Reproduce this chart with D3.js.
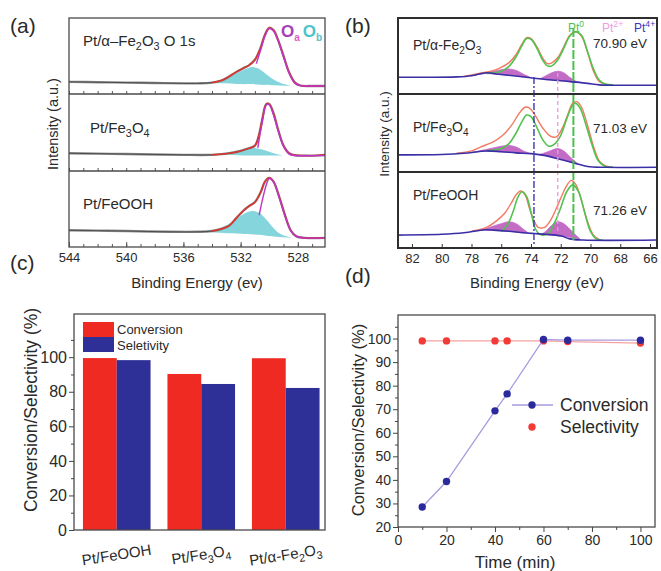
<!DOCTYPE html>
<html><head><meta charset="utf-8">
<script src="https://cdn.jsdelivr.net/npm/d3@7"></script>
<style>body{margin:0;background:#fff;} svg{display:block;font-family:"Liberation Sans",Arial,sans-serif;}</style>
</head><body>
<script>
// ---------------- Panel (a): O 1s XPS ----------------
const aTickValues = [544, 540, 536, 532, 528];
const aSampleLabels = ["Pt/α–Fe_{2}O_{3}  O 1s", "Pt/Fe_{3}O_{4}", "Pt/FeOOH"];
const aEnvFe2O3 = [[544,0.16],[542,0.155],[540,0.15],[538,0.145],[536,0.14],[535,0.14],[534,0.15],[533.3,0.18],[532.8,0.23],[532.3,0.29],[531.8,0.34],[531.4,0.38],[531.0,0.45],[530.6,0.61],[530.3,0.78],[530.0,0.87],[529.7,0.84],[529.4,0.72],[529.0,0.5],[528.6,0.28],[528.2,0.15],[527.8,0.11],[527,0.105],[526.1,0.105]];
const aEnvFe3O4 = [[544,0.23],[542,0.225],[540,0.22],[538,0.215],[536,0.21],[534,0.21],[533,0.225],[532.2,0.25],[531.5,0.29],[531.0,0.33],[530.7,0.48],[530.5,0.66],[530.2,0.87],[530.0,0.87],[529.7,0.75],[529.4,0.55],[529.0,0.33],[528.6,0.23],[528.2,0.205],[527.5,0.2],[526.8,0.2],[526.1,0.21]];
const aEnvFeOOH = [[544,0.22],[542,0.215],[540,0.21],[537,0.2],[535,0.2],[534,0.21],[533.3,0.24],[532.8,0.28],[532.3,0.38],[531.8,0.48],[531.4,0.54],[531.0,0.59],[530.6,0.72],[530.3,0.86],[530.0,0.91],[529.7,0.86],[529.3,0.66],[528.9,0.42],[528.5,0.22],[528.1,0.14],[527.5,0.12],[526.1,0.12]];
const aOaFe2O3 = [[530.9,0.40],[530.6,0.58],[530.3,0.76],[530.0,0.86],[529.7,0.83],[529.4,0.71],[529.0,0.49],[528.6,0.27],[528.2,0.14],[527.8,0.11],[527,0.105],[526.1,0.105]];
const aOaFe3O4 = [[530.8,0.30],[530.5,0.62],[530.2,0.86],[530.0,0.86],[529.7,0.73],[529.4,0.54],[529.0,0.32],[528.6,0.22],[528.2,0.2],[527,0.2],[526.1,0.2]];
const aOaFeOOH = [[530.7,0.42],[530.5,0.6],[530.2,0.82],[530.0,0.9],[529.7,0.86],[529.3,0.65],[528.9,0.41],[528.5,0.22],[528.1,0.14],[527.5,0.12],[526.1,0.12]];
const aObFe2O3 = [[534.2,0.14,0.14],[533.5,0.14,0.17],[533,0.14,0.2],[532.5,0.135,0.25],[532,0.13,0.3],[531.5,0.13,0.34],[531.2,0.13,0.355],[530.8,0.125,0.34],[530.4,0.12,0.29],[530,0.12,0.23],[529.5,0.115,0.17],[529,0.11,0.13],[528.5,0.11,0.11]];
const aObFe3O4 = [[535,0.21,0.21],[534,0.21,0.22],[533,0.21,0.24],[532.2,0.205,0.27],[531.5,0.2,0.3],[531,0.2,0.3],[530.5,0.2,0.28],[530,0.2,0.25],[529.5,0.2,0.22],[529,0.2,0.2]];
const aObFeOOH = [[534.5,0.2,0.2],[533.8,0.19,0.22],[533.2,0.185,0.27],[532.6,0.18,0.33],[532,0.175,0.41],[531.5,0.17,0.46],[531.1,0.165,0.475],[530.7,0.16,0.45],[530.3,0.15,0.38],[529.8,0.14,0.27],[529.3,0.13,0.18],[528.8,0.125,0.14],[528.3,0.12,0.12]];

// ---------------- Panel (b): Pt 4f XPS ----------------
const bTickValues = [82, 80, 78, 76, 74, 72, 70, 68, 66];
const bSampleLabels = ["Pt/α-Fe_{2}O_{3}", "Pt/Fe_{3}O_{4}", "Pt/FeOOH"];
const bPeakLabels = ["70.90 eV", "71.03 eV", "71.26 eV"];
const bLegend = ["Pt^{0}", "Pt^{2+}", "Pt^{4+}"];
const bRefEnergies = [73.8, 72.2, 71.15];
const bBlueFe2O3 = [[83,0.22],[81,0.22],[79,0.225],[78,0.24],[77,0.28],[76.2,0.26],[75.2,0.24],[73.9,0.21],[73,0.19],[72,0.175],[71.2,0.16],[70.2,0.14],[69.4,0.12],[68,0.115],[65.5,0.115]];
const bBlueFe3O4 = [[83,0.22],[80,0.225],[78.5,0.24],[77,0.27],[76,0.26],[75,0.245],[74,0.235],[73,0.21],[72,0.16],[71,0.11],[70.2,0.07],[69,0.06],[65.5,0.06]];
const bBlueFeOOH = [[83,0.17],[80,0.18],[78.5,0.2],[77.1,0.24],[76.5,0.235],[75.5,0.22],[74.5,0.2],[73.8,0.19],[73,0.18],[72,0.16],[71.4,0.12],[70.5,0.105],[65.5,0.105]];
const bPt2Fe2O3 = [[[78,0.24,0.24],[77,0.27,0.28],[76.5,0.26,0.30],[76,0.255,0.32],[75.5,0.245,0.33],[75,0.24,0.31],[74.5,0.225,0.26],[74,0.215,0.215]],
                   [[73.4,0.2,0.2],[73,0.19,0.24],[72.6,0.185,0.28],[72.2,0.18,0.3],[71.8,0.17,0.28],[71.4,0.165,0.22],[71,0.155,0.17],[70.7,0.15,0.15]]];
const bPt2Fe3O4 = [[[78,0.25,0.25],[77,0.27,0.29],[76.5,0.265,0.31],[76,0.26,0.33],[75.5,0.255,0.34],[75,0.245,0.32],[74.5,0.24,0.27],[74,0.235,0.235]],
                   [[73.5,0.22,0.22],[73,0.21,0.25],[72.6,0.19,0.28],[72.2,0.175,0.3],[71.8,0.155,0.27],[71.4,0.13,0.2],[71,0.11,0.13],[70.8,0.1,0.1]]];
const bPt2FeOOH = [[[77.5,0.23,0.23],[77,0.235,0.26],[76.5,0.23,0.29],[76,0.225,0.32],[75.5,0.22,0.345],[75,0.21,0.32],[74.6,0.2,0.26],[74.2,0.195,0.2]],
                   [[73.3,0.18,0.18],[73,0.175,0.22],[72.6,0.17,0.3],[72.2,0.16,0.345],[71.8,0.15,0.32],[71.4,0.14,0.25],[71,0.13,0.17],[70.7,0.12,0.12]]];
const bPt0Fe2O3 = [[77,0.27],[76,0.3],[75.5,0.36],[75,0.49],[74.6,0.64],[74.3,0.73],[74.0,0.72],[73.6,0.6],[73.2,0.44],[72.9,0.37],[72.6,0.37],[72.2,0.45],[71.8,0.6],[71.4,0.76],[71.0,0.82],[70.6,0.77],[70.2,0.56],[69.8,0.33],[69.4,0.18],[69,0.13],[68.5,0.12]];
const bPt0Fe3O4 = [[77,0.27],[76,0.3],[75.5,0.36],[75,0.5],[74.6,0.65],[74.3,0.73],[74,0.71],[73.6,0.57],[73.2,0.41],[72.8,0.33],[72.4,0.36],[72,0.47],[71.6,0.68],[71.2,0.86],[71.0,0.88],[70.7,0.82],[70.3,0.6],[69.9,0.35],[69.5,0.15],[69.1,0.08],[68.5,0.06]];
const bPt0FeOOH = [[76,0.22],[75.6,0.3],[75.2,0.48],[74.9,0.66],[74.6,0.74],[74.3,0.68],[74,0.47],[73.7,0.25],[73.4,0.18],[73.1,0.17],[72.8,0.2],[72.4,0.34],[72,0.53],[71.6,0.74],[71.2,0.83],[70.8,0.74],[70.4,0.47],[70,0.22],[69.6,0.12],[69.2,0.105]];
const bEnvFe2O3 = [[78.5,0.23],[77.5,0.27],[76.5,0.31],[76,0.35],[75.5,0.41],[75,0.52],[74.6,0.66],[74.3,0.74],[74.0,0.73],[73.6,0.62],[73.2,0.47],[72.9,0.4],[72.6,0.41],[72.2,0.48],[71.8,0.62],[71.4,0.77],[71.0,0.82],[70.6,0.76],[70.2,0.55],[69.8,0.3],[69.4,0.16],[69,0.13]];
const bEnvFe3O4 = [[79,0.24],[78,0.27],[77.4,0.32],[76.5,0.39],[75.9,0.47],[75.3,0.6],[74.8,0.75],[74.4,0.83],[74.1,0.82],[73.7,0.72],[73.2,0.56],[72.7,0.46],[72.3,0.45],[71.9,0.56],[71.5,0.75],[71.2,0.88],[70.9,0.9],[70.6,0.83],[70.2,0.6],[69.8,0.33],[69.4,0.14],[69,0.08],[68.5,0.06]];
const bEnvFeOOH = [[78,0.22],[77,0.27],[76.3,0.36],[75.8,0.45],[75.3,0.6],[75,0.7],[74.7,0.75],[74.4,0.7],[74.1,0.52],[73.8,0.36],[73.5,0.27],[73.1,0.27],[72.7,0.36],[72.3,0.52],[71.9,0.7],[71.6,0.82],[71.3,0.89],[71.0,0.84],[70.6,0.62],[70.2,0.35],[69.8,0.17],[69.4,0.11]];

// ---------------- Panel (c): bars ----------------
const cCategories = ["Pt/FeOOH", "Pt/Fe_{3}O_{4}", "Pt/α-Fe_{2}O_{3}"];
const cSeries = ["Conversion", "Seletivity"];
const cConversion = [99.5, 90.3, 99.4];
const cSelectivity = [98.3, 84.5, 82.2];
const cTickValues = [0, 20, 40, 60, 80, 100];

// ---------------- Panel (d): time course ----------------
const dTime = [10, 20, 40, 45, 60, 70, 100];
const dConversion = [28.5, 39.3, 69.3, 76.5, 99.6, 99.3, 99.3];
const dSelectivity = [99, 99, 99, 99, 99, 98.7, 98.1];
const dXTicks = [0, 20, 40, 60, 80, 100];
const dYTicks = [20, 30, 40, 50, 60, 70, 80, 90, 100];
const dSeries = ["Conversion", "Selectivity"];

// ================= drawing =================
const svg = d3.select("body").append("svg").attr("width", 661).attr("height", 571);
const TXT = "#2a2a2a";

function rich(sel, str, size) {
  const re = /([_^])\{([^}]*)\}|([^_^]+)/g;
  let m, shift = 0;
  while ((m = re.exec(str))) {
    if (m[3] !== undefined) {
      sel.append("tspan").attr("dy", -shift).text(m[3]); shift = 0;
    } else {
      const s = m[1] === "_" ? 0.28 * size : -0.42 * size;
      sel.append("tspan").attr("font-size", size * 0.72).attr("dy", s - shift).text(m[2]); shift = s;
    }
  }
  return sel;
}
function label(g, x, y, str, size, opts = {}) {
  const t = g.append("text").attr("x", x).attr("y", y).attr("font-size", size)
    .attr("fill", opts.fill || TXT).attr("text-anchor", opts.anchor || "start");
  if (opts.weight) t.attr("font-weight", opts.weight);
  if (opts.transform) t.attr("transform", opts.transform);
  return rich(t, str, size);
}
const smooth = d3.curveCatmullRom.alpha(0.5);

// panel letters
[["(a)", 10, 33], ["(b)", 345, 33], ["(c)", 10, 270], ["(d)", 345, 283]].forEach(([s, x, y]) =>
  svg.append("text").attr("x", x).attr("y", y).attr("font-size", 21).attr("fill", TXT).text(s));

// ---- Panel (a)
{
  const g = svg.append("g");
  const x = d3.scaleLinear().domain([544, 526.1]).range([69, 325]);
  const rows = [[18, 94], [94, 171], [171, 247]];
  const envs = [aEnvFe2O3, aEnvFe3O4, aEnvFeOOH];
  const oas = [aOaFe2O3, aOaFe3O4, aOaFeOOH];
  const obs = [aObFe2O3, aObFe3O4, aObFeOOH];
  rows.forEach(([top, bot], i) => {
    const y = d3.scaleLinear().domain([0, 1]).range([bot, top]);
    g.append("path").datum(obs[i]).attr("fill", "#6fcfd6").attr("fill-opacity", 0.85)
      .attr("d", d3.area().x(d => x(d[0])).y0(d => y(d[1])).y1(d => y(d[2])).curve(smooth));
    g.append("path").datum(envs[i]).attr("fill", "none").attr("stroke", "#8d8d8d").attr("stroke-width", 2.4)
      .attr("d", d3.line().x(d => x(d[0])).y(d => y(d[1])).curve(smooth));
    g.append("path").datum(envs[i]).attr("fill", "none").attr("stroke", "#3a3a3a").attr("stroke-width", 0.8)
      .attr("d", d3.line().x(d => x(d[0])).y(d => y(d[1])).curve(smooth));
    g.append("path").datum(envs[i].filter(d => d[0] <= 534.2)).attr("fill", "none").attr("stroke", "#e0342c").attr("stroke-width", 1.5)
      .attr("d", d3.line().x(d => x(d[0])).y(d => y(d[1])).curve(smooth));
    g.append("path").datum(oas[i]).attr("fill", "none").attr("stroke", "#c034c8").attr("stroke-width", 1.4)
      .attr("d", d3.line().x(d => x(d[0])).y(d => y(d[1])).curve(smooth));
    const ax = g.append("g").attr("transform", `translate(0,${bot})`)
      .call(d3.axisBottom(x).tickValues(d3.range(544, 526, -1)).tickSize(-3).tickFormat(""));
    ax.select(".domain").remove();
    ax.selectAll("line").attr("stroke", "#555");
  });
  const xa = g.append("g").attr("transform", "translate(0,247)")
    .call(d3.axisBottom(x).tickValues(aTickValues).tickSize(-5).tickPadding(6));
  xa.select(".domain").remove();
  xa.selectAll("line").attr("stroke", "#555");
  xa.selectAll("text").attr("font-size", 13).attr("fill", TXT).attr("font-family", "Liberation Sans, Arial");
  g.append("rect").attr("x", 69).attr("y", 18).attr("width", 256).attr("height", 229)
    .attr("fill", "none").attr("stroke", "#4a4a4a").attr("stroke-width", 1.3);
  [94, 171].forEach(yy => g.append("line").attr("x1", 69).attr("x2", 325).attr("y1", yy).attr("y2", yy).attr("stroke", "#4a4a4a").attr("stroke-width", 1.3));
  label(g, 83, 46, aSampleLabels[0], 15);
  label(g, 90, 133, aSampleLabels[1], 15);
  label(g, 83, 209, aSampleLabels[2], 15);
  const lo = g.append("text").attr("x", 281).attr("y", 37).attr("font-size", 17).attr("font-weight", "bold");
  lo.append("tspan").attr("fill", "#a640b8").text("O");
  lo.append("tspan").attr("fill", "#e060c0").attr("font-size", 10).attr("dy", 4).text("a");
  lo.append("tspan").attr("fill", "#4cc4cc").attr("dy", -4).attr("dx", 3).text("O");
  lo.append("tspan").attr("fill", "#4cc4cc").attr("font-size", 10).attr("dy", 4).text("b");
  g.append("text").attr("x", 197).attr("y", 288).attr("text-anchor", "middle").attr("font-size", 15).attr("fill", TXT).text("Binding Energy (ev)");
  g.append("text").attr("transform", "translate(58,124) rotate(-90)").attr("text-anchor", "middle").attr("font-size", 14.5).attr("fill", TXT).text("Intensity (a.u.)");
}

// ---- Panel (b)
{
  const g = svg.append("g");
  const x = d3.scaleLinear().domain([82.94, 65.53]).range([398, 657]);
  const rows = [[18, 94], [94, 172], [172, 248]];
  const blues = [bBlueFe2O3, bBlueFe3O4, bBlueFeOOH];
  const pt2s = [bPt2Fe2O3, bPt2Fe3O4, bPt2FeOOH];
  const pt0s = [bPt0Fe2O3, bPt0Fe3O4, bPt0FeOOH];
  const envs = [bEnvFe2O3, bEnvFe3O4, bEnvFeOOH];
  const line = y => d3.line().x(d => x(d[0])).y(d => y(d[1])).curve(smooth);
  rows.forEach(([top, bot], i) => {
    const y = d3.scaleLinear().domain([0, 1]).range([bot, top]);
    pt2s[i].forEach(arr => g.append("path").datum(arr).attr("fill", "#b347b8").attr("fill-opacity", 0.8)
      .attr("stroke", "#c865c8").attr("stroke-width", 0.8)
      .attr("d", d3.area().x(d => x(d[0])).y0(d => y(d[1])).y1(d => y(d[2])).curve(smooth)));
    g.append("path").datum(envs[i]).attr("fill", "none").attr("stroke", "#f07a62").attr("stroke-width", 1.4).attr("d", line(y));
    g.append("path").datum(pt0s[i]).attr("fill", "none").attr("stroke", "#52c24e").attr("stroke-width", 1.6).attr("d", line(y));
    g.append("path").datum(blues[i]).attr("fill", "none").attr("stroke", "#3b2fa6").attr("stroke-width", 1.6).attr("d", line(y));
  });
  const vStyles = [
    {c: "#3d36b4", dash: "7,2,2,2", y1: 77, y2: 246, w: 1.4},
    {c: "#e79ad8", dash: "4,3", y1: 73, y2: 232, w: 1.3},
    {c: "#4cc04a", dash: "9,2", y1: 28, y2: 240, w: 2}
  ];
  bRefEnergies.forEach((e, i) => g.append("line").attr("x1", x(e)).attr("x2", x(e)).attr("y1", vStyles[i].y1).attr("y2", vStyles[i].y2)
    .attr("stroke", vStyles[i].c).attr("stroke-width", vStyles[i].w).attr("stroke-dasharray", vStyles[i].dash));
  const xa = g.append("g").attr("transform", "translate(0,248)")
    .call(d3.axisBottom(x).tickValues(bTickValues).tickSize(-4).tickPadding(6));
  xa.select(".domain").remove();
  xa.selectAll("line").attr("stroke", "#333");
  xa.selectAll("text").attr("font-size", 13).attr("fill", TXT).attr("font-family", "Liberation Sans, Arial");
  g.append("rect").attr("x", 398).attr("y", 18).attr("width", 259).attr("height", 230)
    .attr("fill", "none").attr("stroke", "#2e2e2e").attr("stroke-width", 2);
  [94, 172].forEach(yy => g.append("line").attr("x1", 398).attr("x2", 657).attr("y1", yy).attr("y2", yy).attr("stroke", "#2e2e2e").attr("stroke-width", 2));
  label(g, 413, 50, bSampleLabels[0], 14);
  label(g, 413, 132, bSampleLabels[1], 14);
  label(g, 413, 200, bSampleLabels[2], 14);
  [43, 128, 210].forEach((yy, i) => g.append("text").attr("x", 620).attr("y", yy + 5).attr("text-anchor", "middle")
    .attr("font-size", 13.5).attr("fill", TXT).text(bPeakLabels[i]));
  const legCols = ["#4ec24a", "#ee9ee0", "#3a36c0"];
  [568, 602, 634].forEach((xx, i) => label(g, xx, 32, bLegend[i], 12, {fill: legCols[i]}));
  g.append("text").attr("x", 537).attr("y", 288).attr("text-anchor", "middle").attr("font-size", 15).attr("fill", TXT).text("Binding Energy (eV)");
  g.append("text").attr("transform", "translate(389,134) rotate(-90)").attr("text-anchor", "middle").attr("font-size", 13.5).attr("fill", TXT).text("Intensity (a.u.)");
}

// ---- Panel (c)
{
  const g = svg.append("g");
  const x = d3.scaleBand().domain(cCategories).range([74.5, 328]).paddingInner(0.2).paddingOuter(0.1);
  const xs = d3.scaleBand().domain(cSeries).range([0, x.bandwidth()]);
  const y = d3.scaleLinear().domain([0, 125]).range([530, 314]);
  const colors = {Conversion: "#ee2a22", Seletivity: "#2f2f98"};
  const rowsData = cCategories.map((c, i) => ({c, vals: [cConversion[i], cSelectivity[i]]}));
  rowsData.forEach(r => r.vals.forEach((v, j) => g.append("rect")
    .attr("x", x(r.c) + xs(cSeries[j])).attr("width", xs.bandwidth())
    .attr("y", y(v)).attr("height", y(0) - y(v)).attr("fill", colors[cSeries[j]])));
  g.append("rect").attr("x", 74).attr("y", 314).attr("width", 251).attr("height", 216)
    .attr("fill", "none").attr("stroke", "#4a4a4a").attr("stroke-width", 1.3);
  const ya = g.append("g").attr("transform", "translate(74,0)")
    .call(d3.axisLeft(y).tickValues(cTickValues).tickSize(5).tickPadding(2));
  ya.select(".domain").remove();
  ya.selectAll("line").attr("stroke", "#444");
  ya.selectAll("text").attr("font-size", 16).attr("fill", TXT).attr("font-family", "Liberation Sans, Arial");
  const ym = g.append("g").attr("transform", "translate(74,0)")
    .call(d3.axisLeft(y).tickValues([10, 30, 50, 70, 90, 110]).tickSize(3).tickFormat(""));
  ym.select(".domain").remove(); ym.selectAll("line").attr("stroke", "#444");
  cSeries.forEach((s, j) => {
    g.append("rect").attr("x", 83).attr("y", 322 + j * 15).attr("width", 31).attr("height", 15).attr("fill", colors[s]);
    g.append("text").attr("x", 117).attr("y", 334 + j * 16).attr("font-size", 13).attr("fill", TXT).text(s);
  });
  cCategories.forEach(c => {
    const cx = x(c) + x.bandwidth() / 2;
    label(g, cx, 560, c, 15, {anchor: "middle", transform: `rotate(-9 ${cx} 556)`});
  });
  g.append("text").attr("transform", "translate(37,410) rotate(-90)").attr("text-anchor", "middle").attr("font-size", 17.5).attr("fill", TXT).text("Conversion/Selectivity (%)");
}

// ---- Panel (d)
{
  const g = svg.append("g");
  const x = d3.scaleLinear().domain([0, 106]).range([398, 655]);
  const y = d3.scaleLinear().domain([20, 110]).range([527, 315]);
  g.append("rect").attr("x", 398).attr("y", 315).attr("width", 257).attr("height", 212)
    .attr("fill", "none").attr("stroke", "#4a4a4a").attr("stroke-width", 1.3);
  const xa = g.append("g").attr("transform", "translate(0,527)").call(d3.axisBottom(x).tickValues(dXTicks).tickSize(5).tickPadding(3));
  xa.select(".domain").remove(); xa.selectAll("line").attr("stroke", "#444");
  xa.selectAll("text").attr("font-size", 14).attr("fill", TXT).attr("font-family", "Liberation Sans, Arial");
  const xm = g.append("g").attr("transform", "translate(0,527)").call(d3.axisBottom(x).tickValues([10, 30, 50, 70, 90]).tickSize(3).tickFormat(""));
  xm.select(".domain").remove(); xm.selectAll("line").attr("stroke", "#444");
  const ya = g.append("g").attr("transform", "translate(398,0)").call(d3.axisLeft(y).tickValues(dYTicks).tickSize(5).tickPadding(2));
  ya.select(".domain").remove(); ya.selectAll("line").attr("stroke", "#444");
  ya.selectAll("text").attr("font-size", 14).attr("fill", TXT).attr("font-family", "Liberation Sans, Arial");
  const ym = g.append("g").attr("transform", "translate(398,0)").call(d3.axisLeft(y).tickValues(d3.range(25, 110, 10)).tickSize(3).tickFormat(""));
  ym.select(".domain").remove(); ym.selectAll("line").attr("stroke", "#444");

  const series = [
    {name: dSeries[0], vals: dConversion, line: "#a99bdc", dot: "#2a2a9c"},
    {name: dSeries[1], vals: dSelectivity, line: "#f5a3a0", dot: "#f23a36"}
  ];
  series.slice().reverse().forEach(s => {
    const pts = dTime.map((t, i) => [t, s.vals[i]]);
    g.append("path").datum(pts).attr("fill", "none").attr("stroke", s.line).attr("stroke-width", 1.3)
      .attr("d", d3.line().x(d => x(d[0])).y(d => y(d[1])));
    g.selectAll(null).data(pts).enter().append("circle").attr("cx", d => x(d[0])).attr("cy", d => y(d[1])).attr("r", 3.7).attr("fill", s.dot);
  });
  series.forEach((s, j) => {
    const ly = 405 + j * 22;
    if (j === 0) g.append("line").attr("x1", 512).attr("x2", 553).attr("y1", ly).attr("y2", ly).attr("stroke", s.line).attr("stroke-width", 1.3);
    g.append("circle").attr("cx", 532).attr("cy", ly).attr("r", 3.7).attr("fill", s.dot);
    g.append("text").attr("x", 560).attr("y", ly + 6).attr("font-size", 17.5).attr("fill", TXT).text(s.name);
  });
  g.append("text").attr("x", 515).attr("y", 568).attr("text-anchor", "middle").attr("font-size", 17).attr("fill", TXT).text("Time (min)");
  g.append("text").attr("transform", "translate(364,420) rotate(-90)").attr("text-anchor", "middle").attr("font-size", 16.5).attr("fill", TXT).text("Conversion/Selectivity (%)");
}
</script>
</body></html>
